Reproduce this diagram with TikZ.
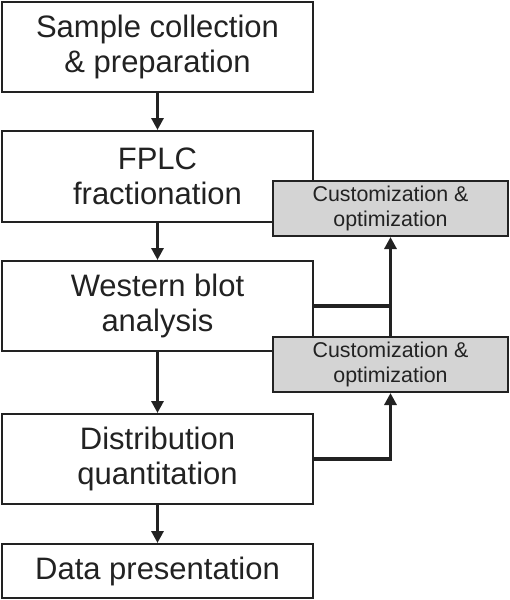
\documentclass[tikz,border=0pt]{standalone}
\usepackage{fontspec}
\setmainfont{Liberation Sans}
\usetikzlibrary{arrows.meta}
\definecolor{ink}{HTML}{222222}
\definecolor{boxgray}{HTML}{D4D4D4}
\tikzset{
  mainbox/.style={draw=ink, line width=2pt, fill=white, minimum width=311pt, inner sep=0pt, align=center, text=ink, font=\fontsize{31}{35.5}\selectfont},
  sidebox/.style={draw=ink, line width=2pt, fill=boxgray, minimum width=235pt, minimum height=55pt, inner sep=0pt, align=center, text=ink, font=\fontsize{21.4}{25}\selectfont},
  flow/.style={draw=ink, line width=3.5pt, -{Triangle[length=12pt,width=12pt]}},
  link/.style={draw=ink, line width=3.5pt}
}
\begin{document}
\begin{tikzpicture}[x=1pt,y=-1pt]
\useasboundingbox (0,0) rectangle (509,600);
\node[mainbox, minimum height=90pt] (b1) at (157.5,47) {Sample collection\\\& preparation};
\node[mainbox, minimum height=91pt] (b2) at (157.5,176.5) {FPLC\\fractionation};
\node[mainbox, minimum height=90pt] (b3) at (157.5,306) {Western blot\\analysis};
\node[mainbox, minimum height=90pt] (b4) at (157.5,459) {Distribution\\quantitation};
\node[mainbox, minimum height=54pt] (b5) at (157.5,571) {Data presentation};
\node[sidebox] (g1) at (390.5,208.5) {Customization \&\\optimization};
\node[sidebox] (g2) at (390.5,364.5) {Customization \&\\optimization};
\draw[flow] (b1.south) -- (b2.north);
\draw[flow] (b2.south) -- (b3.north);
\draw[flow] (b3.south) -- (b4.north);
\draw[flow] (b4.south) -- (b5.north);
\coordinate (j) at (g2.north |- b3.east);
\draw[link] (b3.east) -- (j);
\draw[flow] (g2.north) -- (g1.south);
\draw[flow] (b4.east) -| (g2.south);
\end{tikzpicture}
\end{document}
